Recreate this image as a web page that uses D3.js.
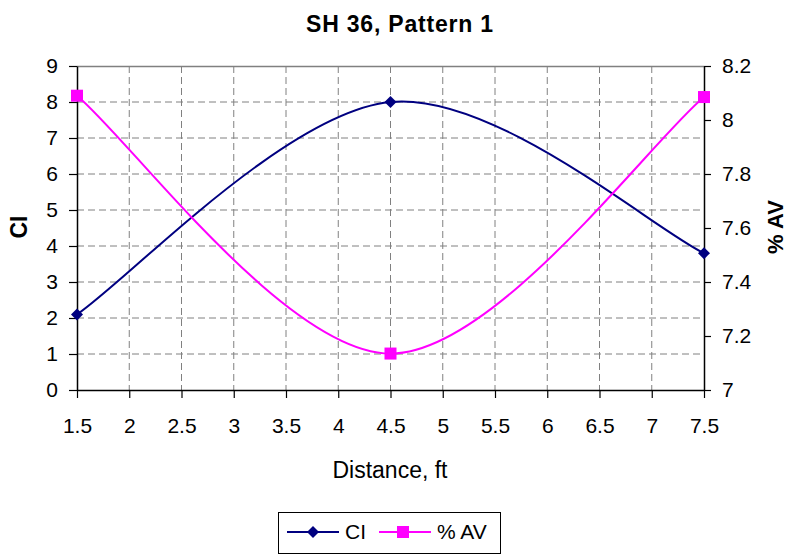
<!DOCTYPE html>
<html>
<head>
<meta charset="utf-8">
<script src="https://cdn.jsdelivr.net/npm/d3@7"></script>
<style>
body { margin: 0; background: #fff; }
text { font-family: "Liberation Sans", Arial, sans-serif; }
</style>
</head>
<body>
<div id="chart-area"></div>
<script>
// SH 36, Pattern 1
var distance = [1.5, 4.5, 7.5];
var ciValues = [2.1, 8.0, 3.8];
var avValues = [8.09, 7.135, 8.085];
var xTicks = [1.5, 2, 2.5, 3, 3.5, 4, 4.5, 5, 5.5, 6, 6.5, 7, 7.5];
var ciTicks = [0, 1, 2, 3, 4, 5, 6, 7, 8, 9];
var avTicks = [7, 7.2, 7.4, 7.6, 7.8, 8, 8.2];

var margin = { left: 77, right: 84, top: 66, bottom: 166 };
var width = 788 - margin.left - margin.right,
    height = 556 - margin.top - margin.bottom;

var svg = d3.select("#chart-area").append("svg")
    .attr("width", 788)
    .attr("height", 556);

var g = svg.append("g").attr("transform", "translate(" + margin.left + ", " + margin.top + ")");

var x = d3.scaleLinear().domain([1.5, 7.5]).range([0, width]);
var yLeft = d3.scaleLinear().domain([0, 9]).range([height, 0]);
var yRight = d3.scaleLinear().domain([7, 8.2]).range([height, 0]);

// gridlines
g.selectAll(".vgrid").data(xTicks.slice(1, -1)).enter().append("line")
    .attr("x1", (d) => x(d)).attr("x2", (d) => x(d))
    .attr("y1", 0).attr("y2", height)
    .attr("stroke", "#808080").attr("stroke-dasharray", "7,4");
g.selectAll(".hgrid").data(ciTicks.slice(1, -1)).enter().append("line")
    .attr("x1", 0).attr("x2", width)
    .attr("y1", (d) => yLeft(d)).attr("y2", (d) => yLeft(d))
    .attr("stroke", "#808080").attr("stroke-dasharray", "7,4");
// top border
g.append("line").attr("x1", 0).attr("x2", width).attr("y1", 0.5).attr("y2", 0.5)
    .attr("stroke", "#808080").attr("stroke-width", 1.5);

// axes
function styleAxis(sel) {
    sel.select(".domain").attr("stroke", "#000").attr("stroke-width", 1.5);
    sel.selectAll(".tick line").attr("stroke", "#000").attr("stroke-width", 1.2);
    sel.selectAll(".tick text").attr("font-size", "21px").attr("fill", "#000")
        .style("font-family", "'Liberation Sans', Arial, sans-serif");
}
var xAxisGroup = g.append("g").attr("transform", "translate(0, " + height + ")")
    .call(d3.axisBottom(x).tickValues(xTicks).tickSize(8).tickPadding(20).tickSizeOuter(0).tickFormat(d3.format("")));
styleAxis(xAxisGroup);
var yAxisGroup = g.append("g")
    .call(d3.axisLeft(yLeft).tickValues(ciTicks).tickSize(8).tickPadding(11).tickSizeOuter(0));
styleAxis(yAxisGroup);
var y2AxisGroup = g.append("g").attr("transform", "translate(" + width + ", 0)")
    .call(d3.axisRight(yRight).tickValues(avTicks).tickSize(7).tickPadding(11).tickSizeOuter(0).tickFormat(d3.format("")));
styleAxis(y2AxisGroup);

// Excel-like smoothed line
function excelCurve(context) {
    var pts;
    return {
        areaStart: function() {}, areaEnd: function() {},
        lineStart: function() { pts = []; },
        point: function(px, py) { pts.push([px, py]); },
        lineEnd: function() {
            var n = pts.length;
            context.moveTo(pts[0][0], pts[0][1]);
            for (var i = 0; i < n - 1; i++) {
                var p0 = pts[Math.max(i - 1, 0)], p1 = pts[i], p2 = pts[i + 1], p3 = pts[Math.min(i + 2, n - 1)];
                context.bezierCurveTo(
                    p1[0] + (p2[0] - p0[0]) / 6, p1[1] + (p2[1] - p0[1]) / 6,
                    p2[0] - (p3[0] - p1[0]) / 6, p2[1] - (p3[1] - p1[1]) / 6,
                    p2[0], p2[1]);
            }
        }
    };
}

var ciData = distance.map((d, i) => ({ x: d, y: ciValues[i] }));
var avData = distance.map((d, i) => ({ x: d, y: avValues[i] }));

var ciLine = d3.line().x((d) => x(d.x)).y((d) => yLeft(d.y)).curve(excelCurve);
var avLine = d3.line().x((d) => x(d.x)).y((d) => yRight(d.y)).curve(excelCurve);

g.append("path").attr("d", ciLine(ciData)).attr("fill", "none").attr("stroke", "#000080").attr("stroke-width", 2);
g.append("path").attr("d", avLine(avData)).attr("fill", "none").attr("stroke", "#FF00FF").attr("stroke-width", 2);

var diamond = d3.symbol().type(d3.symbolSquare).size(72);
g.selectAll(".ci-mark").data(ciData).enter().append("path")
    .attr("d", diamond())
    .attr("transform", (d) => "translate(" + x(d.x) + "," + yLeft(d.y) + ") rotate(45)")
    .attr("fill", "#000080");
g.selectAll(".av-mark").data(avData).enter().append("rect")
    .attr("x", (d) => x(d.x) - 6).attr("y", (d) => yRight(d.y) - 6)
    .attr("width", 12).attr("height", 12)
    .attr("fill", "#FF00FF");

// Titles
svg.append("text").attr("x", 400).attr("y", 32).attr("text-anchor", "middle")
    .attr("font-size", "23px").attr("font-weight", "bold").attr("letter-spacing", "0.8px")
    .text("SH 36, Pattern 1");
svg.append("text").attr("x", 390).attr("y", 478).attr("text-anchor", "middle")
    .attr("font-size", "23px").text("Distance, ft");
svg.append("text").attr("transform", "translate(27, 227) rotate(-90)").attr("text-anchor", "middle")
    .attr("font-size", "23px").attr("font-weight", "bold").text("CI");
svg.append("text").attr("transform", "translate(783, 227) rotate(-90)").attr("text-anchor", "middle")
    .attr("font-size", "22px").attr("font-weight", "bold").text("% AV");

// Legend
var legend = svg.append("g");
legend.append("rect").attr("x", 278.5).attr("y", 512.5).attr("width", 222).attr("height", 41)
    .attr("fill", "#fff").attr("stroke", "#000").attr("stroke-width", 1);
legend.append("line").attr("x1", 287).attr("x2", 339).attr("y1", 532).attr("y2", 532)
    .attr("stroke", "#000080").attr("stroke-width", 2);
legend.append("path").attr("d", diamond()).attr("transform", "translate(313,532) rotate(45)").attr("fill", "#000080");
legend.append("text").attr("x", 345).attr("y", 539).attr("font-size", "21px").text("CI");
legend.append("line").attr("x1", 379).attr("x2", 431).attr("y1", 532).attr("y2", 532)
    .attr("stroke", "#FF00FF").attr("stroke-width", 2);
legend.append("rect").attr("x", 397).attr("y", 526).attr("width", 12).attr("height", 12).attr("fill", "#FF00FF");
legend.append("text").attr("x", 437).attr("y", 539).attr("font-size", "21px").text("% AV");
</script>
</body>
</html>
